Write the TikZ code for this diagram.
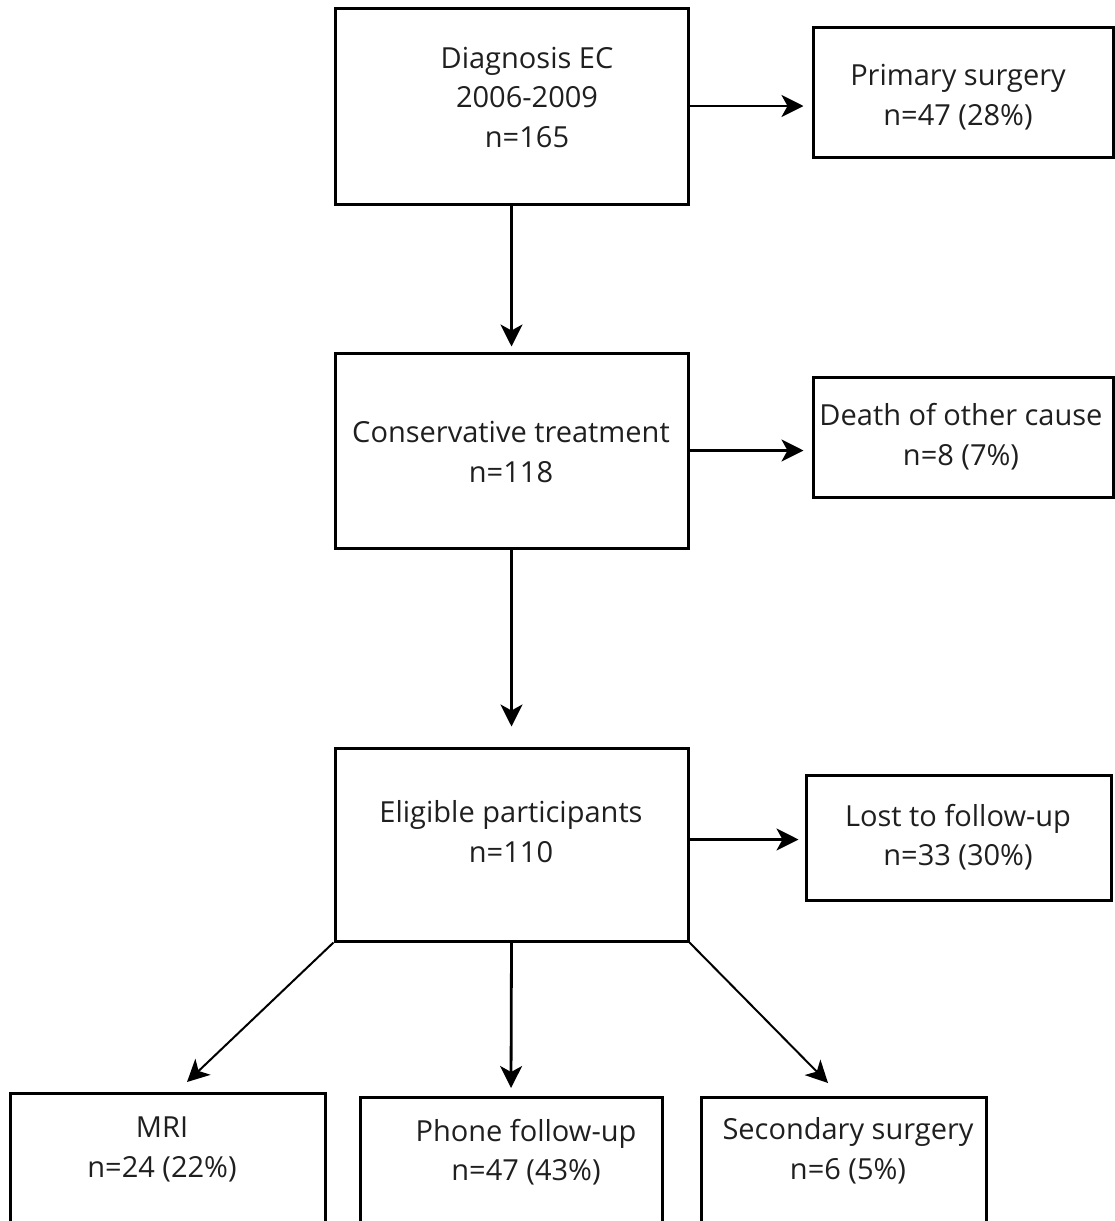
\documentclass[tikz,border=0pt]{standalone}
\usepackage{fontspec}
\setmainfont{Open Sans}
\usetikzlibrary{arrows.meta,calc}
\begin{document}
\begin{tikzpicture}[x=1pt,y=-1pt,
  box/.style={draw=black,line width=3pt,rectangle,inner sep=0pt},
  txt/.style={align=center,text=black!88,font=\fontsize{29}{39.5}\selectfont,inner sep=0pt},
  arr/.style={line width=2.8pt,-{Stealth[length=22pt,width=22pt,inset=6pt]}}]
\useasboundingbox (0,0) rectangle (1115,1221);
% boxes
\node[box,minimum width=353,minimum height=196] (diag) at (511.5,106) {};
\node[box,minimum width=300,minimum height=130] (prim) at (963,92) {};
\node[box,minimum width=353,minimum height=195] (cons) at (511.5,450.5) {};
\node[box,minimum width=300,minimum height=120] (death) at (963,437) {};
\node[box,minimum width=353,minimum height=193] (elig) at (511.5,844.5) {};
\node[box,minimum width=305,minimum height=125] (lost) at (958.5,837.5) {};
\node[box,minimum width=315,minimum height=200] (mri) at (167.5,1193) {};
\node[box,minimum width=302,minimum height=200] (phone) at (511,1197) {};
\node[box,minimum width=285,minimum height=200] (sec) at (843.5,1197) {};
% texts
\node[txt] (tdiag) at (527,97) {Diagnosis EC\\2006-2009\\n=165};
\node[txt] (tprim) at (958,97) {Primary surgery\\n=47 (28\%)};
\node[txt] (tcons) at (511,452) {Conservative treatment\\n=118};
\node[txt] (tdeath) at (961,436.5) {Death of other cause\\n=8 (7\%)};
\node[txt] (telig) at (511,831.5) {Eligible participants\\n=110};
\node[txt] (tlost) at (958,837) {Lost to follow-up\\n=33 (30\%)};
\node[txt] (tmri) at (162,1149.5) {MRI\\n=24 (22\%)};
\node[txt] (tphone) at (526,1152) {Phone follow-up\\n=47 (43\%)};
\node[txt] (tsec) at (848,1151) {Secondary surgery\\n=6 (5\%)};
% connectors
\coordinate (mriin) at (187,1082);
\coordinate (phonein) at (511,1088);
\coordinate (secin) at (828,1083);
\draw[arr,shorten >=5pt] (diag.south) -- (cons.north);
\draw[arr,shorten >=8pt] (diag.east) -- (diag.east -| prim.west);
\draw[arr,shorten >=5pt] (cons.south) -- ($(elig.north)+(0,-15)$);
\draw[arr,shorten >=8pt] (cons.east) -- (cons.east -| death.west);
\draw[arr,shorten >=6pt] ($(elig.east)+(0,-5)$) -- ($(elig.east -| lost.west)+(0,-5)$);
\draw[arr,line width=2pt] (elig.south west) -- (mriin);
\draw[arr] (elig.south) -- (phonein);
\draw[arr,line width=2pt] (elig.south east) -- (secin);
\end{tikzpicture}
\end{document}
